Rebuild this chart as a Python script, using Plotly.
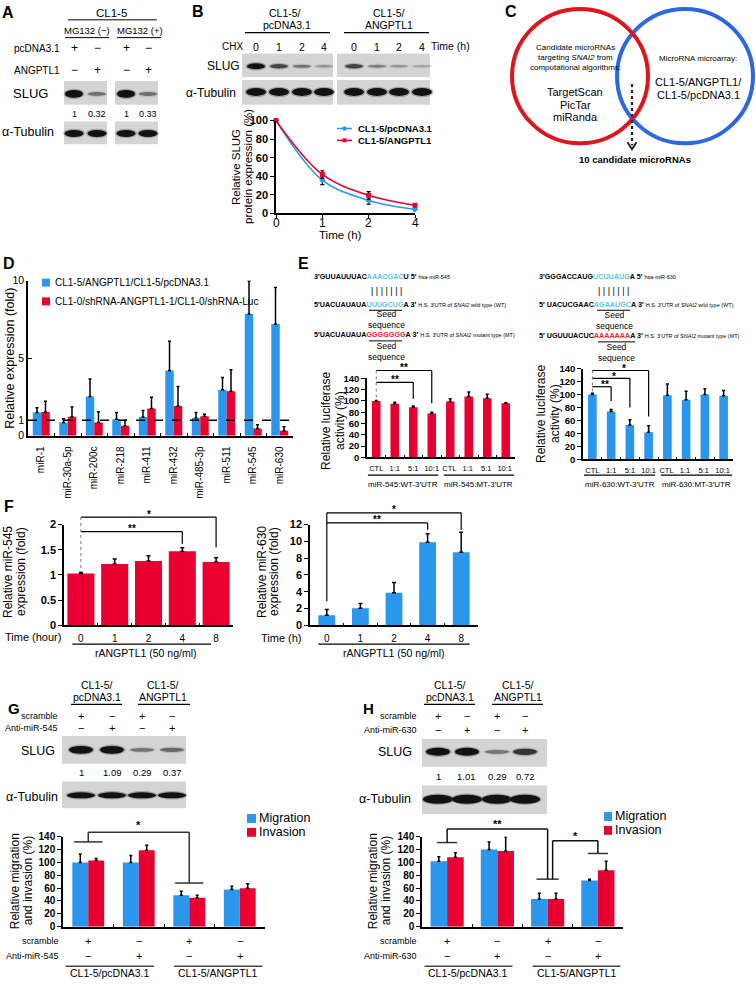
import plotly.graph_objects as go

W, H = 756, 987
FONT = "Liberation Sans, Arial, Helvetica, sans-serif"
BLUE = "#2a96ec"
RED = "#ea0030"
CYAN = "#5cc6e4"
SEQRED = "#e5262d"
VRED = "#e1141c"
VBLUE = "#2d68e3"
BLOT_BG = "#d4d4d4"

# ---------------- data ----------------
# A: western blot
a_pcdna = ["+", "−", "+", "−"]
a_angptl1 = ["−", "+", "−", "+"]
a_slug = [1, 0.32, 1, 0.33]
a_tubulin = [1, 1, 1, 1]

# B: CHX chase blot + quantification
b_chx = ["0", "1", "2", "4"]
b_slug_pc_blot = [1.0, 0.6, 0.3, 0.12]
b_slug_ang_blot = [0.6, 0.22, 0.12, 0.03]
b_tub_blot = [1, 1, 1, 1]
b_time = ["0", "1", "2", "4"]
b_pcdna = [100, 36, 14, 4.5]
b_pcdna_err = [0, 5, 4, 1.5]
b_angptl1 = [100, 42, 19.5, 8.8]
b_angptl1_err = [0, 4, 4, 1.5]

# D: microRNA expression
d_mirnas = ["miR-1", "miR-30a-5p", "miR-200c", "miR-218", "miR-411",
            "miR-432", "miR-485-3p", "miR-511", "miR-545", "miR-630"]
d_angptl1 = [1.49, 0.85, 2.53, 1.06, 1.21, 4.2, 1.15, 2.97, 7.85, 7.2]
d_angptl1_err = [0.31, 0.25, 1.12, 0.43, 0.42, 1.89, 0.34, 0.79, 2.13, 2.35]
d_shrna = [1.53, 1.23, 0.85, 0.64, 1.76, 1.91, 1.25, 2.87, 0.47, 0.32]
d_shrna_err = [0.7, 0.62, 0.7, 0.36, 0.72, 1.27, 0.13, 1.38, 0.23, 0.25]
d_yticks = [0, 1, 5, 10]

# E: luciferase
e_ratio = ["CTL", "1:1", "5:1", "10:1", "CTL ", "1:1 ", "5:1 ", "10:1 "]
e_mir545 = [100, 95, 89, 78, 99, 108, 105, 96]
e_mir545_err = [1, 3, 2, 2, 5, 8, 7, 1]
e_mir630 = [100, 74, 53, 42, 99, 92, 100, 98]
e_mir630_err = [2, 3, 8, 10, 17, 13, 9, 8]

# F: time course
f_time = ["0", "1", "2", "4", "8"]
f_mir545 = [1.03, 1.22, 1.28, 1.47, 1.26]
f_mir545_err = [0.02, 0.1, 0.1, 0.07, 0.08]
f_mir630 = [1.2, 2.05, 3.9, 9.9, 8.7]
f_mir630_err = [0.7, 0.55, 1.2, 1.0, 2.4]

# G / H
gh_groups = ["g1", "g2", "g3", "g4"]
gh_scramble = ["+", "−", "+", "−"]
gh_anti = ["−", "+", "−", "+"]
g_slug = [1, 1.09, 0.29, 0.37]
g_migration = [100, 100, 49, 58]
g_migration_err = [13, 11, 6, 5]
g_invasion = [103, 119, 45, 60]
g_invasion_err = [3, 8, 4, 7]
h_slug = [1, 1.01, 0.29, 0.72]
h_migration = [102, 120, 43, 72]
h_migration_err = [7, 12, 9, 2]
h_invasion = [108, 118, 43, 88]
h_invasion_err = [7, 22, 9, 14]

# ---------------- helpers ----------------
fig = go.Figure()
shapes, annots = [], []


def X(x):
    return x / W


def Y(y):
    return 1 - y / H


def line(x0, y0, x1, y1, w=1.2, color="black", dash=None):
    d = dict(color=color, width=w)
    if dash:
        d["dash"] = dash
    shapes.append(dict(type="line", xref="paper", yref="paper", x0=X(x0), y0=Y(y0),
                       x1=X(x1), y1=Y(y1), line=d, layer="above"))


def rect(x0, y0, x1, y1, fill):
    shapes.append(dict(type="rect", xref="paper", yref="paper", x0=X(x0), y0=Y(y1),
                       x1=X(x1), y1=Y(y0), fillcolor=fill, line=dict(width=0), layer="above"))


def ellipse(cx, cy, rx, ry, fill=None, opacity=1.0, lw=0, lc=None):
    shapes.append(dict(type="circle", xref="paper", yref="paper",
                       x0=X(cx - rx), x1=X(cx + rx), y0=Y(cy + ry), y1=Y(cy - ry),
                       fillcolor=fill or "rgba(0,0,0,0)", opacity=opacity,
                       line=dict(width=lw, color=lc or "rgba(0,0,0,0)"), layer="above"))


def polyline(pts, w=1.5, color="black"):
    d = "M" + " L".join(f"{X(a):.5f},{Y(b):.5f}" for a, b in pts)
    shapes.append(dict(type="path", xref="paper", yref="paper", path=d,
                       line=dict(width=w, color=color), layer="above"))


def text(x, y, s, size=10, anchor="center", color="black", family=FONT, angle=0, bold=False):
    if bold:
        s = f"<b>{s}</b>"
    annots.append(dict(x=X(x), y=Y(y), xref="paper", yref="paper", text=s, showarrow=False,
                       xanchor=anchor, yanchor="middle", textangle=angle, borderpad=0,
                       font=dict(family=family, size=size, color=color)))


def band(cx, cy, w, inten, hmax=8.0):
    k = max(0.0, min(float(inten), 1.0))
    h = 2.0 + (hmax - 2.0) * k
    op = 0.2 + 0.8 * k
    ellipse(cx, cy, w / 2 + 1.5, h / 2 + 1.3, "#444444", opacity=op * 0.35)
    ellipse(cx, cy, w / 2, h / 2, "#121212", opacity=op)


SP = {}
axes_layout = {}


def subplot(name, idx, x0, x1, ytop, ybot, xr, yr, xkw, ykw):
    SP[name] = (idx, x0, x1, ytop, ybot, xr, yr)
    sfx = "" if idx == 1 else str(idx)
    base = dict(showline=True, linecolor="black", linewidth=1.5, showgrid=False,
                zeroline=False, fixedrange=True, tickcolor="black", tickwidth=1.2)
    xa = dict(base, domain=[X(x0), X(x1)], range=xr, anchor="y" + sfx)
    xa.update(xkw)
    ya = dict(base, domain=[Y(ybot), Y(ytop)], range=yr, anchor="x" + sfx)
    ya.update(ykw)
    axes_layout["xaxis" + sfx] = xa
    axes_layout["yaxis" + sfx] = ya
    return "x" + sfx, "y" + sfx


def dp(name, xv, yv):
    idx, x0, x1, yt, yb, xr, yr = SP[name]
    return (x0 + (xv - xr[0]) / (xr[1] - xr[0]) * (x1 - x0),
            yb - (yv - yr[0]) / (yr[1] - yr[0]) * (yb - yt))


def bars(ax, cats, vals, errs, color, w, off, cap=1.5):
    fig.add_trace(go.Bar(
        x=cats, y=vals, width=w, offset=off, xaxis=ax[0], yaxis=ax[1],
        marker=dict(color=color, line=dict(width=0)), hoverinfo="skip",
        error_y=dict(type="data", array=errs, arrayminus=[0] * len(errs), symmetric=False,
                     color="black", thickness=1.5, width=cap)))


BOLDTICK = dict(family=FONT, size=10, color="black", weight="bold")
NORMTICK = dict(family=FONT, size=10, color="black")

# ================= Panel A =================
text(1, 7, "A", 16, "left", bold=True)
text(111, 7, "CL1-5", 11.5)
line(68, 14, 157, 14, 1)
text(87, 25, "MG132 (−)", 9.5)
line(65, 32, 109, 32, 1)
text(140, 25, "MG132 (+)", 9.5)
line(117, 32, 161, 32, 1)
text(61, 43, "pcDNA3.1", 10, "right")
text(61, 65, "ANGPTL1", 10, "right")
a_lanes = [74, 97, 126, 148]
for i, xl in enumerate(a_lanes):
    text(xl, 43, a_pcdna[i], 12)
    text(xl, 65, a_angptl1[i], 12)
text(30, 89, "SLUG", 13)
rect(64, 76, 107, 100, BLOT_BG)
rect(115, 76, 158, 100, BLOT_BG)
for i, xl in enumerate(a_lanes):
    band(xl, 89, 18, a_slug[i], 8)
    text(xl, 109, f"{a_slug[i]:g}", 9)
text(28, 128, "α-Tubulin", 12.5)
rect(64, 117, 107, 140, BLOT_BG)
rect(115, 117, 158, 140, BLOT_BG)
for i, xl in enumerate(a_lanes):
    band(xl, 129, 19, a_tubulin[i], 7)

# ================= Panel B =================
text(191, 6, "B", 16, "left", bold=True)
text(285, 7, "CL1-5/", 10.5)
text(287, 19, "pcDNA3.1", 10.5)
line(245, 27, 330, 27, 1.2)
text(389, 7, "CL1-5/", 10.5)
text(389, 19, "ANGPTL1", 10.5)
line(344, 27, 429, 27, 1.2)
text(232, 41, "CHX", 10)
bl_left = [256, 279, 302, 324]
bl_right = [354, 377, 399, 422]
for i in range(4):
    text(bl_left[i], 41, b_chx[i], 10.5)
    text(bl_right[i], 41, b_chx[i], 10.5)
text(451, 40, "Time (h)", 10.5)
text(223, 61, "SLUG", 12)
text(237, 88, "α-Tubulin", 12, "right")
rect(242, 48, 333, 72, BLOT_BG)
rect(337, 48, 430, 72, BLOT_BG)
rect(242, 75, 333, 100, BLOT_BG)
rect(337, 75, 430, 100, BLOT_BG)
for i in range(4):
    band(bl_left[i], 61, 18, b_slug_pc_blot[i], 6)
    band(bl_right[i], 61, 18, b_slug_ang_blot[i], 6)
    band(bl_left[i], 87, 20, b_tub_blot[i], 8)
    band(bl_right[i], 87, 20, b_tub_blot[i], 8)

axB = subplot("B", 1, 276, 415, 116, 210, [0, 3], [0, 100],
              dict(type="category", ticks="outside", ticklen=3, showticklabels=False),
              dict(ticks="outside", ticklen=4, tickvals=[0, 20, 40, 60, 80, 100],
                   tickfont=dict(BOLDTICK, size=11)))
fig.add_trace(go.Scatter(x=b_time, y=b_pcdna, mode="lines+markers", xaxis=axB[0], yaxis=axB[1],
                         line=dict(color=BLUE, width=1.6, shape="spline", smoothing=1.0),
                         marker=dict(symbol="diamond", size=5, color=BLUE), cliponaxis=False,
                         error_y=dict(type="data", array=b_pcdna_err, color="black", thickness=1.2, width=2),
                         hoverinfo="skip"))
fig.add_trace(go.Scatter(x=b_time, y=b_angptl1, mode="lines+markers", xaxis=axB[0], yaxis=axB[1],
                         line=dict(color=RED, width=1.6, shape="spline", smoothing=1.0),
                         marker=dict(symbol="square", size=5, color=RED), cliponaxis=False,
                         error_y=dict(type="data", array=b_angptl1_err, color="black", thickness=1.2, width=2),
                         hoverinfo="skip"))
for i, t in enumerate(b_time):
    text(dp("B", i, 0)[0], 220, t, 12)
text(236, 163, "Relative SLUG", 11.5, angle=-90)
text(248, 163, "protein expression (%)", 11.5, angle=-90)
text(340, 232, "Time (h)", 11.5)
line(337, 124, 352, 124, 1.5, BLUE)
ellipse(344.5, 124, 2.2, 2.2, BLUE)
line(337, 136, 352, 136, 1.5, RED)
rect(342.5, 134, 346.5, 138, RED)
text(357, 124, "CL1-5/pcDNA3.1", 9.5, "left", bold=True)
text(357, 136, "CL1-5/ANGPTL1", 9.5, "left", bold=True)

# ================= Panel C =================
text(504, 6, "C", 16, "left", bold=True)
ellipse(685, 71, 68, 68, lw=4, lc=VBLUE)
ellipse(580, 71, 68, 68, lw=4, lc=VRED)
text(575, 42, "Candidate microRNAs", 8)
text(575, 52, "targeting <i>SNAI2</i> from", 8)
text(575, 62, "computational algorithms:", 8)
text(575, 87, "TargetScan", 11)
text(575, 100, "PicTar", 11)
text(575, 112, "miRanda", 11)
text(698, 53, "MicroRNA microarray:", 8)
text(698, 77, "CL1-5/ANGPTL1/", 11)
text(698, 90, "CL1-5/pcDNA3.1", 11)
line(632, 79, 632, 141, 2.2, "#222222", "dot")
polyline([(627.5, 138), (632, 145), (636.5, 138)], 2, "#222222")
text(635, 155, "10 candidate microRNAs", 9.5, bold=True)

# ================= Panel D =================
text(2, 261, "D", 16, "left", bold=True)
axD = subplot("D", 2, 28, 293, 278, 435, [-0.5, 9.5], [0, 10],
              dict(type="category", ticks="inside", ticklen=3, tickson="boundaries",
                   tickangle=-90, ticklabelstandoff=5, tickfont=dict(NORMTICK, size=10)),
              dict(ticks="inside", ticklen=4, tickvals=d_yticks, tickfont=dict(NORMTICK, size=10.5)))
bars(axD, d_mirnas, d_angptl1, d_angptl1_err, BLUE, 0.32, -0.32, 1.5)
bars(axD, d_mirnas, d_shrna, d_shrna_err, RED, 0.32, 0.0, 1.5)
p0 = dp("D", -0.5, 1)
p1 = dp("D", 9.5, 1)
line(p0[0], p0[1], p1[0], p1[1], 1.6, "black", "dash")
rect(42, 276, 50, 284, BLUE)
text(54, 280, "CL1-5/ANGPTL1/CL1-5/pcDNA3.1", 10, "left")
rect(42, 295, 50, 303, RED)
text(54, 299, "CL1-0/shRNA-ANGPTL1-1/CL1-0/shRNA-Luc", 10, "left")
text(10, 357, "Relative expression (fold)", 12.5, angle=-90)

# ================= Panel E =================
text(297, 261, "E", 16, "left", bold=True)


def seq(prefix, core, core_color, suffix, note):
    return (f'<b>{prefix}<span style="color:{core_color}">{core}</span>{suffix}</b> '
            f'<span style="font-size:5.5px">{note}</span>')


text(313, 274, seq("3′GUUAUUUAC", "AAACGAC", CYAN, "U 5′", "hsa-miR-545"), 7.2, "left")
text(386, 289, "| | | | | | |", 9)
text(313, 302, seq("5′UACUAUAUA", "UUUGCUG", CYAN, "A 3′",
                   "H.S. 3′UTR of <i>SNAI2</i> wild type (WT)"), 7.2, "left")
line(369, 308, 402, 308, 1)
text(386, 317, "Seed<br>sequence", 8.5)
text(313, 333, seq("5′UACUAUAUA", "GGGGGGG", SEQRED, "A 3′",
                   "H.S. 3′UTR of <i>SNAI2</i> mutant type (MT)"), 7.2, "left")
line(369, 339, 402, 339, 1)
text(386, 350, "Seed<br>sequence", 8.5)

text(538, 274, seq("3′GGGACCAUG", "UCUUAUG", CYAN, "A 5′", "hsa-miR-630"), 7.2, "left")
text(613, 289, "| | | | | | |", 9)
text(538, 302, seq("5′ UACUCGAAC", "AGAAUGC", CYAN, "A 3′",
                   "H.S. 3′UTR of <i>SNAI2</i> wild type (WT)"), 7.2, "left")
line(597, 308, 630, 308, 1)
text(614, 318, "Seed<br>sequence", 8.5)
text(538, 334, seq("5′ UGUUUACUC", "AAAAAAA", SEQRED, "A 3′",
                   "H.S. 3′UTR of <i>SNAI2</i> mutant type (MT)"), 7.2, "left")
line(598, 340, 635, 340, 1)
text(616, 351, "Seed<br>sequence", 8.5)

exkw = dict(type="category", ticks="inside", ticklen=3, tickson="boundaries", ticklabelstandoff=3,
            tickangle=0, tickfont=dict(family=FONT, size=7.5, color="black"))
eykw = dict(ticks="outside", ticklen=4, tickvals=list(range(0, 141, 20)), tickfont=dict(BOLDTICK, size=9.5))
axE1 = subplot("E1", 3, 367, 515, 377, 457, [-0.5, 7.5], [0, 140], exkw, eykw)
axE2 = subplot("E2", 4, 583, 733, 367, 459, [-0.5, 7.5], [0, 140], exkw, eykw)
bars(axE1, e_ratio, e_mir545, e_mir545_err, RED, 0.46, -0.23, 1.5)
bars(axE2, e_ratio, e_mir630, e_mir630_err, BLUE, 0.46, -0.23, 1.5)
text(326, 420, "Relative luciferase", 12, angle=-90)
text(340, 420, "activity (%)", 12, angle=-90)
text(541, 413, "Relative luciferase", 12, angle=-90)
text(555, 413, "activity (%)", 12, angle=-90)

for nm, lab1, lab2 in [("E1", "miR-545:WT-3′UTR", "miR-545:MT-3′UTR"),
                       ("E2", "miR-630:WT-3′UTR", "miR-630:MT-3′UTR")]:
    a = dp(nm, -0.45, 0)
    b = dp(nm, 3.35, 0)
    c = dp(nm, 3.65, 0)
    d = dp(nm, 7.45, 0)
    line(a[0], 475, b[0], 475, 1.2)
    line(c[0], 475, d[0], 475, 1.2)
    text((a[0] + b[0]) / 2, 484, lab1, 8)
    text((c[0] + d[0]) / 2, 484, lab2, 8)

# E1 brackets
c0 = dp("E1", 0, 0)[0]
for j, lvl, drop, lab in [(2, 133, 104, "**"), (3, 154, 96, "**")]:
    xj = dp("E1", j, 0)[0]
    yl = dp("E1", 0, lvl)[1]
    yd = dp("E1", 0, drop)[1]
    line(c0, yl, xj, yl, 1.2)
    line(xj, yl, xj, yd, 1.2)
    text((c0 + xj) / 2, yl - 3, lab, 10, bold=True)
yt = dp("E1", 0, 154)[1]
yb = dp("E1", 0, 104)[1]
line(c0, yt, c0, yb, 1, "#777777", "dot")

# E2 brackets
c0 = dp("E2", 0, 0)[0]
for j, lvl, drop, lab in [(1, 112, 90, "**"), (2, 125, 80, "*"), (3, 137, 66, "*")]:
    xj = dp("E2", j, 0)[0]
    yl = dp("E2", 0, lvl)[1]
    yd = dp("E2", 0, drop)[1]
    line(c0, yl, xj, yl, 1.2)
    line(xj, yl, xj, yd, 1.2)
    text((c0 + xj) / 2 + 3, yl - 2, lab, 10, bold=True)
yt = dp("E2", 0, 137)[1]
yb = dp("E2", 0, 104)[1]
line(c0, yt, c0, yb, 1, "#777777", "dot")

# ================= Panel F =================
text(3, 507, "F", 16, "left", bold=True)
fxkw = dict(type="category", ticks="inside", ticklen=3, tickson="boundaries", ticklabelstandoff=3,
            tickfont=dict(NORMTICK, size=10))
axF1 = subplot("F1", 5, 64, 233, 525, 627, [-0.5, 4.5], [0, 2], fxkw,
               dict(ticks="outside", ticklen=4, tickvals=[0, 0.5, 1, 1.5, 2],
                    ticktext=["0", "0.5", "1", "1.5", "2"], tickfont=dict(BOLDTICK, size=11)))
axF2 = subplot("F2", 6, 310, 478, 525, 627, [-0.5, 4.5], [0, 12], fxkw,
               dict(ticks="outside", ticklen=4, tickvals=list(range(0, 13, 2)),
                    tickfont=dict(BOLDTICK, size=11)))
bars(axF1, f_time, f_mir545, f_mir545_err, RED, 0.8, -0.4, 2)
bars(axF2, f_time, f_mir630, f_mir630_err, BLUE, 0.5, -0.25, 2)
text(8, 573, "Relative miR-545", 12, angle=-90)
text(21, 573, "expression (fold)", 12, angle=-90)
text(62, 639, "Time (hour)", 11, "right")
a = dp("F1", -0.25, 0)
b = dp("F1", 3.85, 0)
line(a[0], 646, b[0], 646, 1.2)
text(146, 655, "rANGPTL1 (50 ng/ml)", 10.5)
text(262, 573, "Relative miR-630", 12, angle=-90)
text(274, 573, "expression (fold)", 12, angle=-90)
text(303, 640, "Time (h)", 11, "right")
a = dp("F2", -0.25, 0)
b = dp("F2", 4.25, 0)
line(a[0], 646, b[0], 646, 1.2)
text(394, 655, "rANGPTL1 (50 ng/ml)", 10.5)

# F1 brackets
c0 = dp("F1", 0, 0)[0]
for j, lvl, drop, lab in [(3, 1.86, 1.62, "**"), (4, 2.15, 1.55, "*")]:
    xj = dp("F1", j, 0)[0]
    yl = dp("F1", 0, lvl)[1]
    yd = dp("F1", 0, drop)[1]
    line(c0, yl, xj, yl, 1.2)
    line(xj, yl, xj, yd, 1.2)
    text((c0 + xj) / 2, yl - 3, lab, 10, bold=True)
line(c0, dp("F1", 0, 2.15)[1], c0, dp("F1", 0, 1.06)[1], 1, "#777777", "dot")
# F2 brackets
c0 = dp("F2", 0, 0)[0]
for j, lvl, drop, lab in [(3, 12.2, 11.4, "**"), (4, 13.4, 11.4, "*")]:
    xj = dp("F2", j, 0)[0]
    yl = dp("F2", 0, lvl)[1]
    yd = dp("F2", 0, drop)[1]
    line(c0, yl, xj, yl, 1.2)
    line(xj, yl, xj, yd, 1.2)
    text((c0 + xj) / 2, yl - 3, lab, 10, bold=True)
line(c0, dp("F2", 0, 13.4)[1], c0, dp("F2", 0, 2.9)[1], 1.2)

# ================= Panels G / H =================
ghx = dict(type="category", ticks="inside", ticklen=3, tickson="boundaries", showticklabels=False)
ghy = dict(ticks="outside", ticklen=4, tickvals=list(range(0, 141, 20)), tickfont=BOLDTICK)
axG = subplot("G", 7, 63, 265, 841, 932, [-0.5, 3.5], [0, 140], ghx, ghy)
axH = subplot("H", 8, 422, 623, 841, 932, [-0.5, 3.5], [0, 140], ghx, ghy)
bars(axG, gh_groups, g_migration, g_migration_err, BLUE, 0.315, -0.315, 1.5)
bars(axG, gh_groups, g_invasion, g_invasion_err, RED, 0.315, 0.0, 1.5)
bars(axH, gh_groups, h_migration, h_migration_err, BLUE, 0.33, -0.33, 1.5)
bars(axH, gh_groups, h_invasion, h_invasion_err, RED, 0.33, 0.0, 1.5)

# ---- G top ----
text(7, 711, "G", 15, "left", bold=True)
text(97, 687, "CL1-5/", 10.5)
text(97, 699, "pcDNA3.1", 10.5)
line(71, 707, 122, 707, 1.2)
text(163, 687, "CL1-5/", 10.5)
text(163, 699, "ANGPTL1", 10.5)
line(138, 707, 190, 707, 1.2)
g_lanes = [81, 112, 142, 172]
text(59, 719, "scramble", 9, "right")
text(59, 731, "Anti-miR-545", 9, "right")
for i, xl in enumerate(g_lanes):
    text(xl, 719, gh_scramble[i], 11)
    text(xl, 731, gh_anti[i], 11)
text(38, 754, "SLUG", 12.5)
rect(62, 739, 186, 767, BLOT_BG)
rect(62, 785, 186, 812, BLOT_BG)
for i, xl in enumerate(g_lanes):
    band(xl, 753, 24, g_slug[i], 8)
    text(xl, 776, f"{g_slug[i]:g}", 9.5)
    band(xl, 799, 28, 1, 6)
text(32, 801, "α-Tubulin", 12.5)

# ---- H top ----
text(362, 711, "H", 15, "left", bold=True)
text(450, 687, "CL1-5/", 10.5)
text(450, 699, "pcDNA3.1", 10.5)
line(424, 707, 475, 707, 1.2)
text(518, 687, "CL1-5/", 10.5)
text(518, 699, "ANGPTL1", 10.5)
line(492, 707, 543, 707, 1.2)
h_lanes = [438, 467, 497, 525]
text(418, 719, "scramble", 9, "right")
text(418, 733, "Anti-miR-630", 9, "right")
for i, xl in enumerate(h_lanes):
    text(xl, 719, gh_scramble[i], 11)
    text(xl, 733, gh_anti[i], 11)
text(395, 755, "SLUG", 12.5)
rect(422, 742, 547, 770, BLOT_BG)
rect(422, 789, 547, 818, BLOT_BG)
for i, xl in enumerate(h_lanes):
    band(xl, 755, 24, h_slug[i], 8)
    text(xl, 780, f"{h_slug[i]:g}", 9.5)
    band(xl, 803, 30, 1, 9)
text(412, 803, "α-Tubulin", 12.5, "right")

# ---- G / H bottoms ----
for nm, lab_anti, xlab, ytit in [("G", "Anti-miR-545", 60, 15), ("H", "Anti-miR-630", 418, 373)]:
    text(xlab, 947, "scramble", 9, "right")
    text(xlab, 962, lab_anti, 9, "right")
    for i in range(4):
        xc = dp(nm, i, 0)[0]
        text(xc, 947, gh_scramble[i], 11)
        text(xc, 962, gh_anti[i], 11)
    a = dp(nm, -0.45, 0)[0]
    b = dp(nm, 1.3, 0)[0]
    c = dp(nm, 1.7, 0)[0]
    d = dp(nm, 3.45, 0)[0]
    line(a, 972, b, 972, 1.5, "#444444")
    line(c, 972, d, 972, 1.5, "#444444")
    text((a + b) / 2, 979, "CL1-5/pcDNA3.1", 10.5)
    text((c + d) / 2, 979, "CL1-5/ANGPTL1", 10.5)
    text(ytit, 886, "Relative migration", 12, angle=-90)
    text(ytit + 13, 886, "and invasion (%)", 12, angle=-90)

# legends
rect(247, 818, 256, 827, BLUE)
text(258, 822, "Migration", 12.5, "left")
rect(247, 832, 256, 841, RED)
text(258, 836, "Invasion", 12.5, "left")
rect(604, 816, 612, 825, BLUE)
text(614, 820, "Migration", 12.5, "left")
rect(604, 830, 612, 839, RED)
text(614, 834, "Invasion", 12.5, "left")


def tbar(nm, i, v, half=0.28):
    a = dp(nm, i - half, v)
    b = dp(nm, i + half, v)
    line(a[0], a[1], b[0], b[1], 1.5, "#333333")
    return dp(nm, i, v)


# G bracket
p1 = tbar("G", 0, 132)
p3 = tbar("G", 2, 68)
ytop = dp("G", 0, 147)[1]
line(p1[0], ytop, p3[0], ytop, 1.5, "#333333")
line(p1[0], ytop, p1[0], p1[1], 1.5, "#333333")
line(p3[0], ytop, p3[0], p3[1], 1.5, "#333333")
text((p1[0] + p3[0]) / 2, ytop - 7, "*", 11, bold=True)

# H brackets
p1 = tbar("H", 0, 131, 0.2)
p3 = tbar("H", 2, 74, 0.22)
p4 = tbar("H", 3, 114, 0.2)
ytop = dp("H", 0, 152)[1]
line(p1[0], ytop, p3[0], ytop, 1.5, "#111111")
line(p1[0], ytop, p1[0], p1[1], 1.5, "#111111")
line(p3[0], ytop, p3[0], p3[1], 1.5, "#111111")
text((p1[0] + p3[0]) / 2, ytop - 5, "**", 11, bold=True)
y2 = dp("H", 0, 134)[1]
x3 = p3[0] + 5
line(x3, y2, p4[0], y2, 1.5, "#111111")
line(x3, y2, x3, p3[1], 1.5, "#111111")
line(p4[0], y2, p4[0], p4[1], 1.5, "#111111")
text((x3 + p4[0]) / 2, y2 - 5, "*", 11, bold=True)

fig.update_layout(
    width=W, height=H, margin=dict(l=0, r=0, t=0, b=0),
    paper_bgcolor="white", plot_bgcolor="rgba(0,0,0,0)",
    showlegend=False, barmode="overlay",
    shapes=shapes, annotations=annots,
    font=dict(family=FONT, color="black"),
    **axes_layout,
)
fig.write_html("out.html", config={"displayModeBar": False},
               post_script="document.body.style.margin='0';document.body.style.padding='0';"
                           "document.body.style.overflow='hidden';")
